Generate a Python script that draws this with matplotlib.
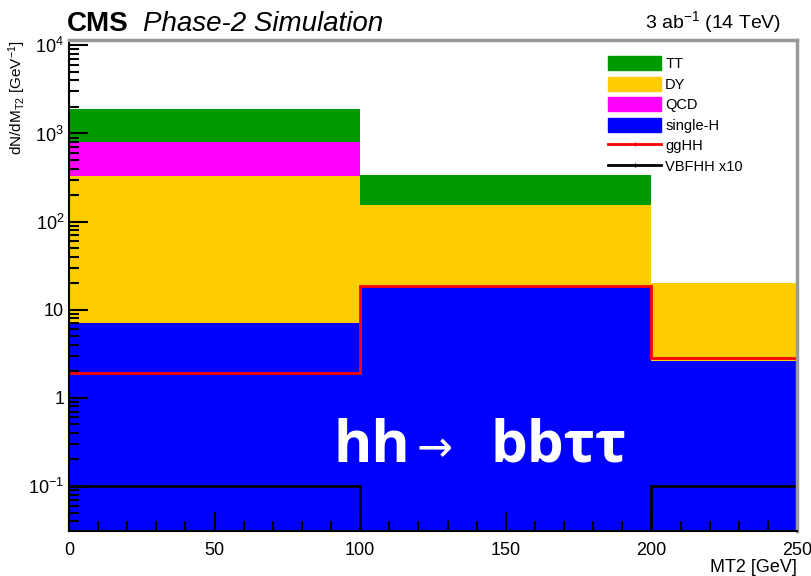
import numpy as np
import matplotlib.pyplot as plt
from matplotlib.patches import Patch
from matplotlib.lines import Line2D
from matplotlib.ticker import FixedLocator, LogLocator, MultipleLocator, NullFormatter

plt.rcParams['font.family'] = ['Liberation Sans', 'DejaVu Sans']
plt.rcParams['mathtext.fontset'] = 'custom'
plt.rcParams['mathtext.rm'] = 'Liberation Sans'
plt.rcParams['mathtext.it'] = 'Liberation Sans:italic'

# MT2 binning and per-process yields
edges = [0, 100, 200, 250]
single_h = [7.0, 18.0, 2.6]
dy = [323.0, 137.0, 17.4]
qcd = [460.0, 0.0, 0.0]
tt = [1110.0, 185.0, 0.0]
gghh = [1.9, 18.5, 2.8]
vbfhh_x10 = [0.1, 0.0, 0.1]

stack = [("single-H", single_h, "#0000ff"),
         ("DY", dy, "#ffcc00"),
         ("QCD", qcd, "#ff00ff"),
         ("TT", tt, "#009900")]

fig = plt.figure(figsize=(8.12, 5.76), dpi=100)
ax = fig.add_axes([0.085, 0.078, 0.8965, 0.852])

bottom = np.full(len(single_h), 1e-3)
for name, vals, col in stack:
    top = bottom + np.array(vals)
    ax.stairs(top, edges, baseline=bottom, fill=True, color=col, lw=0)
    bottom = top

ax.stairs(gghh, edges, baseline=None, color="#ff0000", lw=2)
ax.stairs(vbfhh_x10, edges, baseline=None, color="black", lw=2)

ax.set_yscale("log")
ax.set_xlim(0, 250)
ax.set_ylim(0.0308, 11400)

ax.yaxis.set_major_locator(FixedLocator([0.1, 1, 10, 100, 1000, 10000]))
ax.set_yticklabels([r"$10^{-1}$", "1", "10", r"$10^{2}$", r"$10^{3}$", r"$10^{4}$"])
ax.yaxis.set_minor_locator(LogLocator(base=10, subs=np.arange(2, 10)))
ax.yaxis.set_minor_formatter(NullFormatter())
ax.xaxis.set_major_locator(MultipleLocator(50))
ax.xaxis.set_minor_locator(MultipleLocator(10))

ax.tick_params(which="both", direction="in", top=False, right=False, width=1.5, labelsize=13)
ax.tick_params(which="major", length=14)
ax.tick_params(which="minor", length=7)
ax.tick_params(axis="x", pad=8)

for side in ("top", "right"):
    ax.spines[side].set_color("#999999")
    ax.spines[side].set_linewidth(2.5)
for side in ("left", "bottom"):
    ax.spines[side].set_linewidth(1.5)

ax.set_xlabel("MT2 [GeV]", fontsize=13, loc="right", labelpad=0)
fig.text(17 / 812, 1 - 40 / 576, r"dN/dM$_{\mathrm{T2}}$ [GeV$^{-1}$]", fontsize=11,
         rotation=90, ha="center", va="top")

handles = [Patch(color="#009900"), Patch(color="#ffcc00"), Patch(color="#ff00ff"),
           Patch(color="#0000ff"),
           Line2D([], [], color="#ff0000", lw=2, marker="|", markersize=3),
           Line2D([], [], color="black", lw=2, marker="|", markersize=3)]
labels = ["TT", "DY", "QCD", "single-H", "ggHH", "VBFHH x10"]
ax.legend(handles, labels, loc="upper left", bbox_to_anchor=(0.733, 0.925),
          bbox_transform=fig.transFigure, frameon=False, fontsize=10.5,
          handlelength=3.6, handleheight=1.1, labelspacing=0.38, handletextpad=0.3,
          numpoints=1)

fig.text(67 / 812, 0.946, "CMS", fontsize=20, fontweight="bold", va="baseline")
fig.text(143 / 812, 0.946, "Phase-2 Simulation", fontsize=20, style="italic", va="baseline")
fig.text(781 / 812, 0.951, r"3 ab$^{-1}$ (14 TeV)", fontsize=14, ha="right", va="baseline")

fig.text(333 / 812, 0.198, "hh", fontsize=42, fontweight="bold", color="white",
         family="Open Sans", va="baseline")
fig.text(417 / 812, 0.200, "→", fontsize=31, color="white", family="DejaVu Sans", va="baseline")
fig.text(491 / 812, 0.198, "bbττ", fontsize=42, fontweight="bold", color="white",
         family="Open Sans", va="baseline")

fig.savefig("out.png", dpi=100)
